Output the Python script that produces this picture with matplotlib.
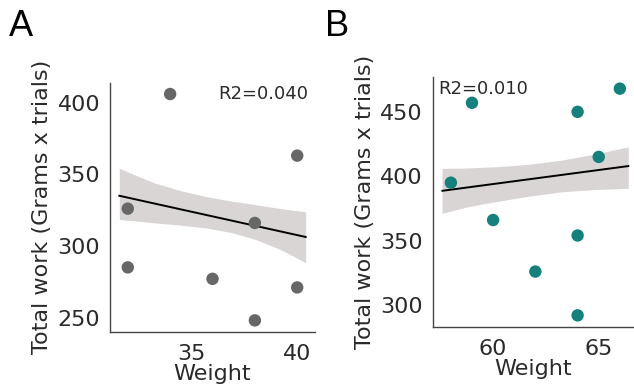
import matplotlib
matplotlib.use("Agg")
import matplotlib.pyplot as plt
import numpy as np

# ---- data ----
weight_a = [32, 32, 34, 36, 38, 38, 40, 40]
work_a = [326, 285, 406, 277, 248, 316, 363, 271]
weight_b = [58, 59, 60, 62, 64, 64, 64, 65, 66]
work_b = [395, 457, 366, 326, 450, 354, 292, 415, 468]

# fitted regression lines (value at a reference x, slope)
fit_a_x0, fit_a_y0, fit_a_slope = 36, 320.6, -3.27
fit_b_x0, fit_b_y0, fit_b_slope = 62, 398.3, 2.18

# confidence bands
band_a_x = [31.60, 32.50, 33.30, 34.50, 35.70, 36.90, 38.05, 39.20, 40.40]
band_a_hi = [354.2, 348.5, 343.8, 338.5, 334.4, 331.3, 328.7, 326.1, 323.7]
band_a_lo = [318.4, 317.2, 316.0, 314.5, 312.5, 309.3, 304.4, 297.5, 288.3]
band_b_x = [57.58, 58.80, 60.09, 61.70, 63.24, 64.80, 66.40]
band_b_hi = [406.1, 406.4, 407.3, 409.3, 412.5, 417.2, 422.8]
band_b_lo = [371.2, 376.3, 380.2, 384.5, 387.9, 389.7, 390.6]

r2_a = "R2=0.040"
r2_b = "R2=0.010"
xticks_a = [35, 40]
yticks_a = [250, 300, 350, 400]
xticks_b = [60, 65]
yticks_b = [300, 350, 400, 450]
xlabel = "Weight"
ylabel = "Total work (Grams x trials)"

plt.rcParams['font.family'] = ['DejaVu Sans']

W, H = 634, 389
fig = plt.figure(figsize=(W / 100, H / 100), dpi=100)

def px_axes(l, r, t, b):
    return [l / W, 1 - b / H, (r - l) / W, (b - t) / H]

ax_a = fig.add_axes(px_axes(110, 315, 82.7, 331.7))
ax_b = fig.add_axes(px_axes(432.7, 634, 77.3, 326.7))

band_color = "#d9d5d5"
text_color = "#2a2a2a"

def draw(ax, xs, ys, color, x0, y0, slope, bx, bhi, blo, xt, yt):
    ax.scatter(xs, ys, s=80, color=color, edgecolors='none', zorder=3)
    xl = ax.get_xlim()
    lx = np.array(xl)
    ax.fill_between(bx, blo, bhi, color=band_color, lw=0, zorder=1)
    ax.plot(lx, y0 + slope * (lx - x0), color='black', lw=1.4, zorder=2)
    ax.set_xticks(xt)
    ax.set_yticks(yt)
    for s in ['top', 'right']:
        ax.spines[s].set_visible(False)
    for s in ['left', 'bottom']:
        ax.spines[s].set_color('#454545')
        ax.spines[s].set_linewidth(1.0)
    ax.tick_params(axis='both', length=0, labelsize=16, colors=text_color)
    ax.tick_params(axis='x', pad=9)
    ax.tick_params(axis='y', pad=7)
    ax.set_xlabel(xlabel, fontsize=16, color=text_color, labelpad=0)
    ax.set_ylabel(ylabel, fontsize=16, color=text_color, labelpad=4)

draw(ax_a, weight_a, work_a, "#676767", fit_a_x0, fit_a_y0, fit_a_slope,
     band_a_x, band_a_hi, band_a_lo, xticks_a, yticks_a)
draw(ax_b, weight_b, work_b, "#15807c", fit_b_x0, fit_b_y0, fit_b_slope,
     band_b_x, band_b_hi, band_b_lo, xticks_b, yticks_b)
ax_b.set_xlim(57.14, 66.67)

ax_a.text(0.967, 0.955, r2_a, transform=ax_a.transAxes, ha='right', va='center',
          fontsize=13, color=text_color)
ax_b.text(0.028, 0.953, r2_b, transform=ax_b.transAxes, ha='left', va='center',
          fontsize=13, color=text_color)

fig.text(9 / W, 1 - 36 / H, "A", fontsize=26, family='Liberation Sans',
         ha='left', va='baseline', color='black')
fig.text(325 / W, 1 - 35.5 / H, "B", fontsize=26, family='Liberation Sans',
         ha='left', va='baseline', color='black')

fig.savefig("out.png", dpi=100)
